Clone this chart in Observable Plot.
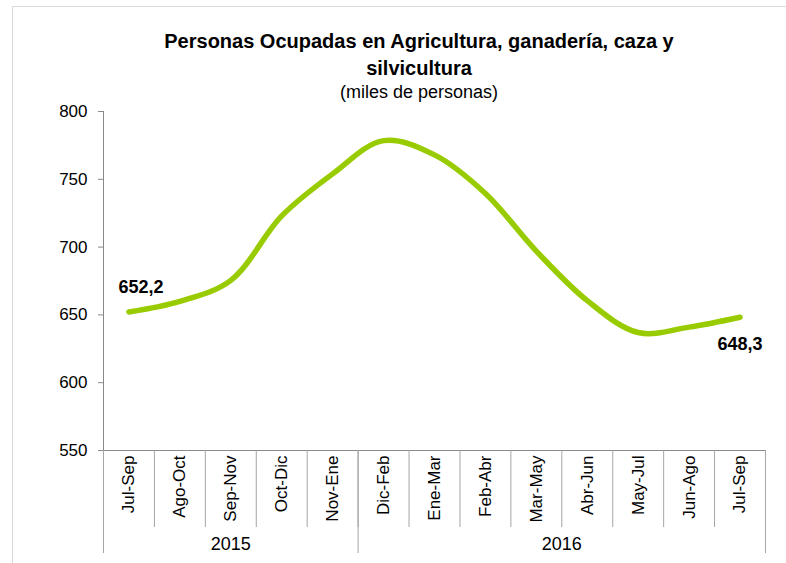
<!DOCTYPE html>
<html>
<head>
<meta charset="utf-8">
<script src="https://cdn.jsdelivr.net/npm/d3@7"></script>
<script src="https://cdn.jsdelivr.net/npm/@observablehq/plot@0.6"></script>
<style>
  html, body { margin: 0; padding: 0; background: #fff; }
  #wrap { position: relative; width: 786px; height: 563px; overflow: hidden; font-family: "Liberation Sans", Arial, sans-serif; }
  #box { position: absolute; left: 12px; top: 6px; width: 814px; height: 600px; border: 1px solid #d9d9d9; box-sizing: border-box; }
  .t { position: absolute; left: 19px; width: 800px; text-align: center; color: #000; white-space: nowrap; }
  #title1 { top: 29px; font-size: 20px; font-weight: bold; line-height: 24px; }
  #title2 { top: 56px; font-size: 20px; font-weight: bold; line-height: 24px; }
  #sub { top: 81px; font-size: 18px; line-height: 22px; }
  #chart { position: absolute; left: 0; top: 0; }
</style>
</head>
<body>
<div id="wrap">
  <div id="box"></div>
  <div id="chart"></div>
  <div class="t" id="title1">Personas Ocupadas en Agricultura, ganadería, caza y</div>
  <div class="t" id="title2">silvicultura</div>
  <div class="t" id="sub">(miles de personas)</div>
</div>
<script>
const categories = ["Jul-Sep","Ago-Oct","Sep-Nov","Oct-Dic","Nov-Ene","Dic-Feb","Ene-Mar","Feb-Abr","Mar-May","Abr-Jun","May-Jul","Jun-Ago","Jul-Sep"];
const values = [652.2, 660, 675.5, 723, 754, 778.5, 768, 739.5, 697, 660.5, 637, 641, 648.3];
const years = ["2015", "2016"];
const yearSpans = [[0, 4], [5, 12]];
const yTicks = [550, 600, 650, 700, 750, 800];

const data = values.map((v, i) => ({i, v, cat: categories[i]}));
const idx = categories.map((_, i) => i);
const edges = d3.range(categories.length + 1).map(k => k - 0.5);
const yearEdges = [-0.5, ...yearSpans.map(s => s[1] + 0.5)];
const yearCenters = yearSpans.map(s => (s[0] + s[1]) / 2);
const fmt = v => d3.format(".1f")(v).replace(".", ",");
const gray = "#898989";

const chart = Plot.plot({
  width: 786,
  height: 563,
  marginLeft: 103,
  marginRight: 21,
  marginTop: 111,
  marginBottom: 113,
  style: {fontFamily: "'Liberation Sans', Arial, sans-serif", background: "transparent", overflow: "visible"},
  x: {type: "linear", domain: [-0.5, categories.length - 0.5]},
  y: {domain: [550, 800]},
  marks: [
    Plot.axisY({ticks: yTicks, tickSize: 5, tickPadding: 11, fontSize: 17, stroke: gray, fill: "#000", label: null, tickFormat: d => String(d)}),
    Plot.ruleX([-0.5], {stroke: gray}),
    Plot.ruleY([550], {stroke: gray}),
    Plot.axisX({ticks: edges, tickSize: 77, stroke: "#a6a6a6", tickFormat: () => "", label: null}),
    Plot.axisX({ticks: yearEdges, tickSize: 103, stroke: "#a6a6a6", tickFormat: () => "", label: null}),
    Plot.axisX({ticks: idx, tickSize: 0, tickPadding: 5, tickRotate: -90, fontSize: 17, fill: "#000", tickFormat: i => categories[i], label: null}),
    Plot.axisX({ticks: yearCenters, tickSize: 0, tickPadding: 87, fontSize: 18, fill: "#000", tickFormat: (d, k) => years[k], label: null}),
    Plot.line(data, {x: "i", y: "v", stroke: "#99cc00", strokeWidth: 5.5, curve: "catmull-rom", strokeLinecap: "round"}),
    Plot.text([data[0]], {x: "i", y: "v", text: d => fmt(d.v), dx: 12, dy: -25, fontSize: 18, fontWeight: "bold", fill: "#000"}),
    Plot.text([data[data.length - 1]], {x: "i", y: "v", text: d => fmt(d.v), dx: 0, dy: 27, fontSize: 18, fontWeight: "bold", fill: "#000"})
  ]
});
document.getElementById("chart").appendChild(chart);
</script>
</body>
</html>
